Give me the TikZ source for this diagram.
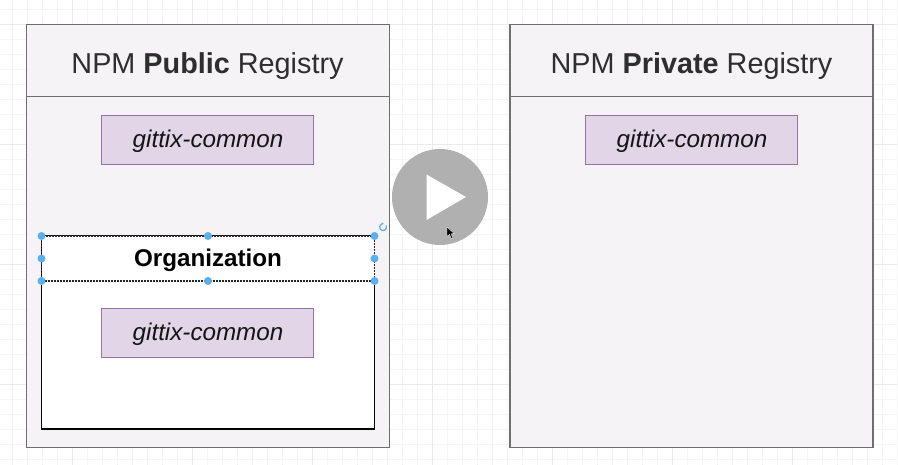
\documentclass[tikz,border=0pt]{standalone}
\usepackage{fontspec}
\usetikzlibrary{arrows.meta}
\setmainfont{Liberation Sans}
\definecolor{gridminor}{HTML}{F5F5F5}
\definecolor{gridmajor}{HTML}{EAEAEA}
\definecolor{panelfill}{HTML}{F5F3F6}
\definecolor{paneldraw}{HTML}{6E6E6E}
\definecolor{pkgfill}{HTML}{E1D5E7}
\definecolor{pkgdraw}{HTML}{9673A6}
\definecolor{handle}{HTML}{5AAFEE}
\definecolor{playgrey}{HTML}{ABABAB}
\tikzset{
  x=1pt,y=-1pt,
  panel/.style={draw=paneldraw,fill=panelfill,line width=1.5pt},
  regbox/.style={panel,minimum width=363pt,anchor=north west,inner sep=0pt,outer sep=0pt},
  regtext/.style={font=\fontsize{28.8}{32}\selectfont,text=black!82},
  pkgbox/.style={draw=pkgdraw,fill=pkgfill,line width=1.1pt,minimum width=212pt,minimum height=49pt,inner sep=0pt,font=\fontsize{24.2}{28}\selectfont\itshape,text=black!92},
  orgbody/.style={draw=black,fill=white,line width=1.5pt,anchor=north west,inner sep=0pt,outer sep=0pt,minimum width=333pt,minimum height=193pt},
  orgtitle/.style={draw=black!85,fill=white,line width=1.3pt,dash pattern=on 2pt off 1pt,anchor=north west,inner sep=0pt,outer sep=0pt,minimum width=333pt,minimum height=45pt,font=\fontsize{24.2}{28}\selectfont\bfseries},
  grip/.style={circle,fill=handle,draw=none,minimum size=8pt,inner sep=0pt},
}
\newcommand{\pkglabel}{\raisebox{-8pt}[0pt][0pt]{\hspace{1pt}gittix-common}}
\begin{document}
\begin{tikzpicture}
\useasboundingbox (0,0) rectangle (898,465);
\fill[white] (0,0) rectangle (898,465);
\foreach \i in {0,...,59}{\draw[gridminor,line width=.8pt] ({12+15*\i},0) -- ({12+15*\i},465);}
\foreach \j in {0,...,30}{\draw[gridminor,line width=.8pt] (0,{9+15*\j}) -- (898,{9+15*\j});}
\foreach \i in {0,...,7}{\draw[gridmajor,line width=.8pt] ({72+120*\i},0) -- ({72+120*\i},465);}
\foreach \j in {0,...,3}{\draw[gridmajor,line width=.8pt] (0,{24+120*\j}) -- (898,{24+120*\j});}

% left registry
\node[regbox,minimum height=423pt] (leftbody) at (26.5,24.5) {};
\node[regbox,minimum height=72pt] (lefthead) at (26.5,24.5) {};
\node[regtext] (lefttitle) at (207.5,66) {NPM \textbf{Public} Registry};
\node[pkgbox] (leftpkg) at (207.5,139.8) {\pkglabel};
\node[orgbody] (org) at (41.5,236) {};
\node[orgtitle] (orgt) at (41.5,236) {\raisebox{-8.5pt}[0pt][0pt]{Organization}};
\node[pkgbox] (orgpkg) at (207.5,332.8) {\pkglabel};
% selection handles
\foreach \n/\x/\y in {a/41.5/236,b/208/236,c/374.5/236,d/41.5/258.5,e/374.5/258.5,f/41.5/281,g/208/281,h/374.5/281}{
  \node[grip] (grip\n) at (\x,\y) {};
}
\draw[handle,line width=1.2pt,-{Stealth[length=2pt,width=2.5pt]}] (386,225.5) arc[start angle=30,end angle=-280,radius=3.4pt];

% right registry
\node[regbox,minimum height=423pt] (rightbody) at (510,24.5) {};
\node[regbox,minimum height=72pt] (righthead) at (510,24.5) {};
\node[regtext] (righttitle) at (691.5,66) {NPM \textbf{Private} Registry};
\node[pkgbox] (rightpkg) at (691.5,139.8) {\pkglabel};

% play overlay
\fill[playgrey,opacity=.93] (440,197) circle[radius=48pt];
\fill[white] (426.5,174.5) -- (466,197) -- (426.5,220) -- cycle;
\fill[black,draw=white,line width=.3pt] (447,227) -- (447,236.5) -- (449.5,234.3) -- (451.5,238.5) -- (452.8,237.8) -- (451,233.8) -- (454.2,233.6) -- cycle;
\end{tikzpicture}
\end{document}
